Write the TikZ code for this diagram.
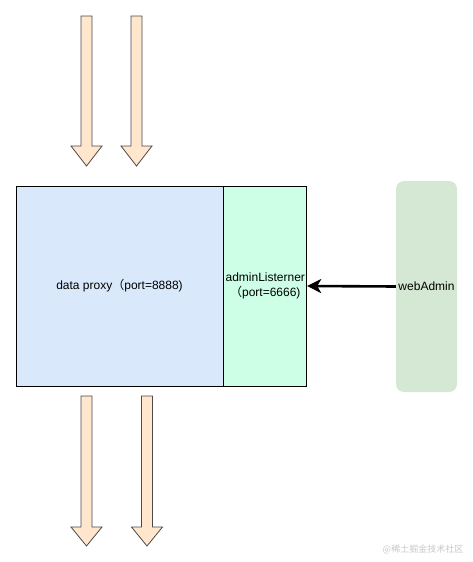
\documentclass[tikz,border=0pt]{standalone}
\usepackage{fontspec}
\setmainfont{Liberation Sans}
\newfontfamily\cjk{Noto Sans CJK SC}
\usetikzlibrary{positioning, arrows.meta}
\definecolor{proxyblue}{HTML}{DAE8FC}
\definecolor{listenergreen}{HTML}{CCFFE6}
\definecolor{webgreen}{HTML}{D5E8D4}
\definecolor{flowpeach}{HTML}{FFE6CC}
\definecolor{flowborder}{HTML}{4A4A4A}
\tikzset{
  proxybox/.style = {rectangle, draw=black, line width=0.8pt, inner sep=0pt,
                     align=center, font=\fontsize{12}{15}\selectfont},
  webbox/.style = {rectangle, fill=webgreen, rounded corners=8pt,
                   minimum width=61pt, minimum height=211pt, inner sep=0pt,
                   font=\fontsize{12}{15}\selectfont},
  flowarrow/.style = {fill=flowpeach, draw=flowborder, line width=0.8pt, line join=miter},
  adminarrow/.style = {-{Stealth[length=14pt, width=14pt, inset=4pt]}, line width=2.6pt}
}
\begin{document}
\begin{tikzpicture}[x=1pt, y=-1pt]
\useasboundingbox (0,0) rectangle (473,562);

% block arrows: {shaft centre / top / head base / tip}
\foreach \cx/\ytop/\ybase/\ytip in {86.5/16/146/166, 136.5/16/146/166,
                                    86.5/396/527/546, 147/396/527/546}
  \draw[flowarrow] (\cx-5.5,\ytop) -- (\cx+5.5,\ytop) -- (\cx+5.5,\ybase)
    -- (\cx+15.5,\ybase) -- (\cx,\ytip) -- (\cx-15.5,\ybase)
    -- (\cx-5.5,\ybase) -- cycle;

\node[proxybox, fill=proxyblue, minimum width=207pt, minimum height=200pt] (proxy)
  at (119.5,286) {data proxy{\cjk （}port=8888)};
\node[proxybox, fill=listenergreen, minimum width=83pt, minimum height=200pt,
      right=0pt of proxy] (listener) {adminListerner\\{\cjk （}port=6666)};
\node[webbox] (web) at (426.5,286.5) {webAdmin};

\draw[adminarrow] (web.west) -- (listener.east);

\node[text=black!22, font=\cjk\fontsize{9}{11}\selectfont] (mark) at (423,549)
  {@稀土掘金技术社区};
\end{tikzpicture}
\end{document}
